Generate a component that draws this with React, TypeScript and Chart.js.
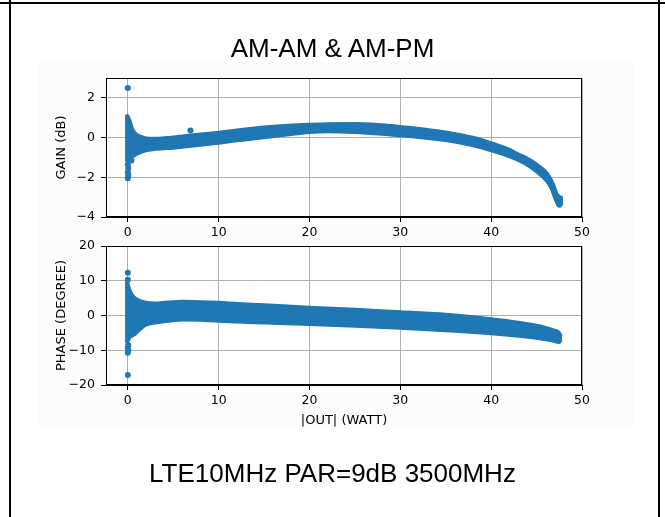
import React, { useEffect, useRef } from "react";
import { Chart, registerables } from "chart.js";

Chart.register(...registerables);

const BLUE = "#1f77b4";

// tick labels
const X_TICKS = [0, 10, 20, 30, 40, 50];
const GAIN_TICKS = [-4, -2, 0, 2];
const PHASE_TICKS = [-20, -10, 0, 10, 20];

// AM-AM band (|OUT| in W vs gain in dB): upper and lower edges of the dense point cloud
const GAIN_W = [-0.3, 0, 0.2, 0.4, 0.6, 1, 1.5, 2, 3, 4, 5, 6, 8, 10, 12, 15, 18, 20, 22, 25, 28, 30, 33, 35, 38, 40, 42, 43, 44, 45, 46, 46.5, 47, 47.3, 47.6, 47.9];
const GAIN_UPPER = [1.1, 1.15, 1.0, 0.75, 0.45, 0.2, 0.1, 0.02, 0.0, 0.03, 0.07, 0.12, 0.22, 0.3, 0.42, 0.57, 0.67, 0.71, 0.74, 0.75, 0.68, 0.6, 0.45, 0.32, 0.05, -0.22, -0.55, -0.78, -1.0, -1.28, -1.65, -1.95, -2.4, -2.8, -2.95, -3.0];
const GAIN_LOWER = [-1.15, -1.2, -1.1, -1.05, -1.0, -0.88, -0.78, -0.7, -0.63, -0.6, -0.57, -0.52, -0.42, -0.32, -0.2, -0.05, 0.12, 0.22, 0.26, 0.22, 0.13, 0.05, -0.08, -0.19, -0.45, -0.7, -1.0, -1.2, -1.45, -1.78, -2.2, -2.55, -3.15, -3.45, -3.5, -3.3];
// isolated AM-AM points
const GAIN_OUT_W = [0, 0, 0.05, 0, 0.05, 0, 0.4, 6.9];
const GAIN_OUT_V = [2.5, -1.35, -1.55, -1.75, -1.9, -2.05, -1.15, 0.36];

// AM-PM band (|OUT| in W vs phase in degrees)
const PHASE_W = [-0.3, 0, 0.3, 0.6, 1, 1.5, 2, 3, 4, 5, 6, 8, 10, 12, 15, 20, 25, 30, 35, 40, 43, 45, 46, 47, 47.5, 47.8];
const PHASE_UPPER = [9.5, 9.8, 7.5, 6.0, 5.0, 4.4, 4.0, 3.8, 4.0, 4.2, 4.3, 4.2, 4.0, 3.7, 3.3, 2.6, 2.0, 1.3, 0.6, -0.7, -1.7, -2.6, -3.2, -4.0, -4.6, -5.8];
const PHASE_LOWER = [-7.5, -7.8, -6.5, -6.0, -5.2, -4.0, -3.0, -2.4, -2.0, -1.7, -1.5, -1.6, -1.9, -2.1, -2.4, -2.8, -3.3, -3.9, -4.6, -5.5, -6.2, -6.8, -7.2, -7.7, -8.0, -7.2];
// isolated AM-PM points
const PHASE_OUT_W = [0, 0, 0.05, 0, 0.05, 0, 0];
const PHASE_OUT_V = [12.3, 10.3, -8.5, -9.3, -10.0, -10.7, -17.1];

const fmt = (v: number) => (v < 0 ? "\u2212" + Math.abs(v) : String(v));

const spinePlugin = {
  id: "spines",
  beforeDraw(chart: any) {
    const { ctx, chartArea: a } = chart;
    ctx.save();
    ctx.fillStyle = "#ffffff";
    ctx.fillRect(a.left, a.top, a.right - a.left, a.bottom - a.top);
    ctx.restore();
  },
  afterDraw(chart: any) {
    const { ctx, chartArea: a } = chart;
    ctx.save();
    ctx.strokeStyle = "#000";
    ctx.lineWidth = 1;
    const l = Math.round(a.left) + 0.5;
    const t = Math.round(a.top) + 0.5;
    const r = Math.round(a.right) - 0.5;
    const b = Math.round(a.bottom) - 0.5;
    ctx.strokeRect(l, t, r - l, b - t);
    ctx.restore();
  },
};

function datasets(w: number[], up: number[], low: number[], ow: number[], ov: number[]) {
  return [
    {
      type: "scatter",
      data: ow.map((x, i) => ({ x, y: ov[i] })),
      pointRadius: 3,
      pointBackgroundColor: BLUE,
      pointBorderWidth: 0,
      showLine: false,
    },
    {
      type: "line",
      data: w.map((x, i) => ({ x, y: up[i] })),
      borderColor: BLUE,
      borderWidth: 1.5,
      pointRadius: 0,
      fill: false,
      cubicInterpolationMode: "monotone",
    },
    {
      type: "line",
      data: w.map((x, i) => ({ x, y: low[i] })),
      borderColor: BLUE,
      borderWidth: 1.5,
      pointRadius: 0,
      fill: "-1",
      backgroundColor: BLUE,
      cubicInterpolationMode: "monotone",
    },
  ];
}

const tickFont = { family: "DejaVu Sans", size: 12.5 };
const titleFont = { family: "DejaVu Sans", size: 13 };

function makeConfig(opts: {
  ds: any[];
  yMin: number;
  yMax: number;
  yTicks: number[];
  yTitle: string;
  xTitle?: string;
  padding: any;
  xHeight: number;
}) {
  return {
    type: "scatter",
    data: { datasets: opts.ds },
    plugins: [spinePlugin],
    options: {
      animation: false,
      responsive: false,
      devicePixelRatio: 1,
      layout: { padding: opts.padding },
      plugins: { legend: { display: false }, tooltip: { enabled: false }, title: { display: false } },
      scales: {
        x: {
          type: "linear",
          min: -2.4,
          max: 50,
          afterBuildTicks: (s: any) => {
            s.ticks = X_TICKS.map((v) => ({ value: v }));
          },
          afterFit: (s: any) => {
            s.height = opts.xHeight;
          },
          ticks: { font: tickFont, color: "#000", padding: 3.5, maxRotation: 0, callback: (v: any) => fmt(Number(v)) },
          grid: { color: "#b0b0b0", lineWidth: 1, tickColor: "#000", tickLength: 5, tickWidth: 1 },
          border: { display: true, color: "#000", width: 1 },
          title: opts.xTitle
            ? { display: true, text: opts.xTitle, font: titleFont, color: "#000", padding: { top: 0, bottom: 2 } }
            : { display: false },
        },
        y: {
          type: "linear",
          min: opts.yMin,
          max: opts.yMax,
          afterBuildTicks: (s: any) => {
            s.ticks = opts.yTicks.map((v) => ({ value: v }));
          },
          afterFit: (s: any) => {
            s.width = 60;
          },
          ticks: { font: tickFont, color: "#000", padding: 6, callback: (v: any) => fmt(Number(v)) },
          grid: { color: "#b0b0b0", lineWidth: 1, tickColor: "#000", tickLength: 5, tickWidth: 1 },
          border: { display: true, color: "#000", width: 1 },
          title: { display: true, text: opts.yTitle, font: titleFont, color: "#000", padding: { top: 8, bottom: 0 } },
        },
      },
    },
  } as any;
}

export default function App() {
  const topRef = useRef<HTMLCanvasElement>(null);
  const botRef = useRef<HTMLCanvasElement>(null);

  useEffect(() => {
    const top = new Chart(
      topRef.current!,
      makeConfig({
        ds: datasets(GAIN_W, GAIN_UPPER, GAIN_LOWER, GAIN_OUT_W, GAIN_OUT_V),
        yMin: -4,
        yMax: 3,
        yTicks: GAIN_TICKS,
        yTitle: "GAIN (dB)",
        padding: { left: 46, right: 83, top: 78, bottom: 8 },
        xHeight: 25,
      })
    );
    const bot = new Chart(
      botRef.current!,
      makeConfig({
        ds: datasets(PHASE_W, PHASE_UPPER, PHASE_LOWER, PHASE_OUT_W, PHASE_OUT_V),
        yMin: -20,
        yMax: 20,
        yTicks: PHASE_TICKS,
        yTitle: "PHASE (DEGREE)",
        xTitle: "|OUT| (WATT)",
        padding: { left: 46, right: 83, top: 16, bottom: 17 },
        xHeight: 45,
      })
    );
    return () => {
      top.destroy();
      bot.destroy();
    };
  }, []);

  const bigText: React.CSSProperties = {
    position: "absolute",
    left: 0,
    width: 665,
    textAlign: "center",
    fontFamily: "'Liberation Sans', Arial, sans-serif",
    fontSize: 26,
    lineHeight: "30px",
    color: "#000",
    whiteSpace: "nowrap",
  };

  return (
    <div style={{ position: "absolute", left: 0, top: 0, width: 665, height: 517, background: "#fff", overflow: "hidden" }}>
      <div style={{ position: "absolute", left: 38, top: 62, width: 596, height: 367, background: "#fcfcfc" }} />
      <canvas ref={topRef} width={665} height={250} style={{ position: "absolute", left: 0, top: 0, width: 665, height: 250 }} />
      <canvas ref={botRef} width={665} height={217} style={{ position: "absolute", left: 0, top: 230, width: 665, height: 217 }} />
      <div style={{ ...bigText, top: 33 }}>AM-AM &amp; AM-PM</div>
      <div style={{ ...bigText, top: 458 }}>LTE10MHz PAR=9dB 3500MHz</div>
      <div style={{ position: "absolute", left: 0, top: 2, width: 665, height: 2, background: "#000" }} />
      <div style={{ position: "absolute", left: 9, top: 0, width: 2, height: 517, background: "#000" }} />
      <div style={{ position: "absolute", left: 658, top: 0, width: 2, height: 517, background: "#000" }} />
    </div>
  );
}
